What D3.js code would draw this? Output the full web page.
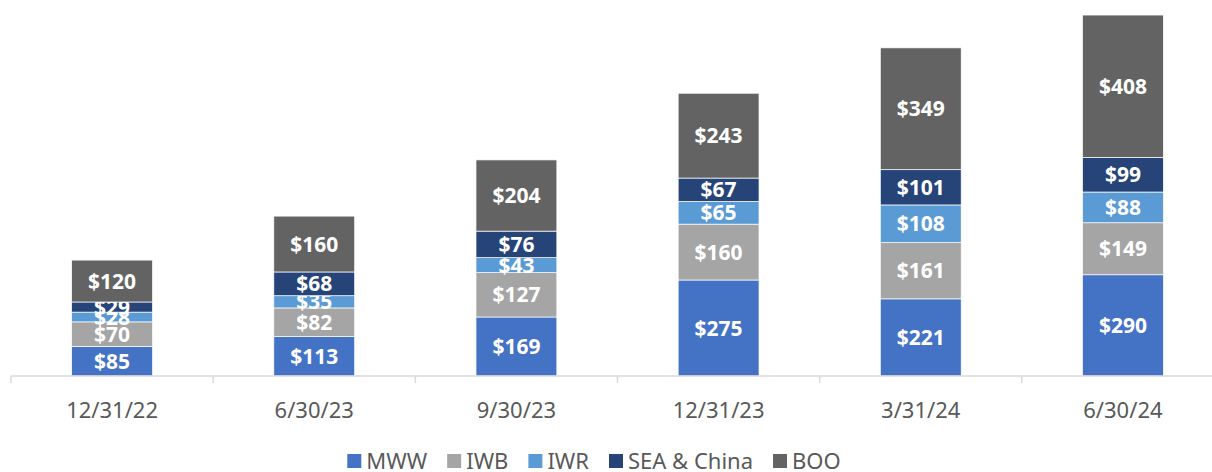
<!DOCTYPE html>
<html>
<head>
<meta charset="utf-8">
<script src="https://cdn.jsdelivr.net/npm/d3@7"></script>
<style>
  body { margin: 0; background: #fff; }
  svg { display: block; font-family: "Noto Sans", "Open Sans", sans-serif; }
</style>
</head>
<body>
<div id="chart"></div>
<script>
// data
var categories = ["12/31/22", "6/30/23", "9/30/23", "12/31/23", "3/31/24", "6/30/24"];
var seriesNames = ["MWW", "IWB", "IWR", "SEA & China", "BOO"];
var mww = [85, 113, 169, 275, 221, 290];
var iwb = [70, 82, 127, 160, 161, 149];
var iwr = [28, 35, 43, 65, 108, 88];
var seaChina = [29, 68, 76, 67, 101, 99];
var boo = [120, 160, 204, 243, 349, 408];
var colors = ["#4472C4", "#A5A5A5", "#5B9BD5", "#264478", "#636363"];

var W = 1212, H = 472;
var svg = d3.select("#chart").append("svg").attr("width", W).attr("height", H);

var rows = categories.map(function (c, i) {
    return {cat: c, "MWW": mww[i], "IWB": iwb[i], "IWR": iwr[i], "SEA & China": seaChina[i], "BOO": boo[i]};
});
var stack = d3.stack().keys(seriesNames)(rows);

var x = d3.scaleBand().domain(categories).range([11, 1224]).paddingInner(0.6).paddingOuter(0.3);
var y = d3.scaleLinear().domain([0, 1100]).range([376, -8]);

// bars
var layers = svg.append("g").selectAll("g")
    .data(stack)
    .join("g")
    .attr("fill", function (d, i) { return colors[i]; });

layers.selectAll("rect")
    .data(function (d) { return d; })
    .join("rect")
    .attr("x", function (d) { return x(d.data.cat); })
    .attr("width", x.bandwidth())
    .attr("y", function (d) { return y(d[1]); })
    .attr("height", function (d) { return y(d[0]) - y(d[1]); })
    .attr("stroke", "#fff")
    .attr("stroke-width", 0.7);

// value labels
layers.selectAll("text")
    .data(function (d) { return d; })
    .join("text")
    .attr("x", function (d) { return x(d.data.cat) + x.bandwidth() / 2; })
    .attr("y", function (d) { return (y(d[0]) + y(d[1])) / 2; })
    .attr("dy", "0.36em")
    .attr("text-anchor", "middle")
    .attr("fill", "#fff")
    .attr("font-size", 21)
    .attr("font-weight", "bold")
    .text(function (d) { return "$" + (d[1] - d[0]); });

// x axis
var band = d3.scaleBand().domain(categories).range([11, 1224]);
var axis = svg.append("g").attr("transform", "translate(0,376)");
axis.append("line").attr("x1", 11).attr("x2", W).attr("stroke", "#D9D9D9").attr("stroke-width", 1.5);
axis.selectAll("line.tick")
    .data(categories)
    .join("line")
    .attr("class", "tick")
    .attr("x1", function (d) { return band(d); })
    .attr("x2", function (d) { return band(d); })
    .attr("y1", 0).attr("y2", 7)
    .attr("stroke", "#D9D9D9").attr("stroke-width", 1.5);
axis.selectAll("text")
    .data(categories)
    .join("text")
    .attr("x", function (d) { return band(d) + band.bandwidth() / 2; })
    .attr("y", 34)
    .attr("dy", "0.36em")
    .attr("text-anchor", "middle")
    .attr("fill", "#595959")
    .attr("font-size", 22)
    .text(function (d) { return d; });

// legend
var legend = svg.append("g").attr("transform", "translate(0,461)");
var items = legend.selectAll("g").data(seriesNames).join("g");
items.append("rect").attr("y", -7).attr("width", 14).attr("height", 14)
    .attr("fill", function (d, i) { return colors[i]; });
items.append("text").attr("x", 19).attr("dy", "0.36em")
    .attr("fill", "#595959").attr("font-size", 22)
    .text(function (d) { return d; });
var gap = 20, pos = 0, offsets = [];
items.each(function () {
    offsets.push(pos);
    pos += 19 + this.querySelector("text").getComputedTextLength() + gap;
});
var total = pos - gap, start = 594 - total / 2;
items.attr("transform", function (d, i) { return "translate(" + (start + offsets[i]) + ",0)"; });
</script>
</body>
</html>
